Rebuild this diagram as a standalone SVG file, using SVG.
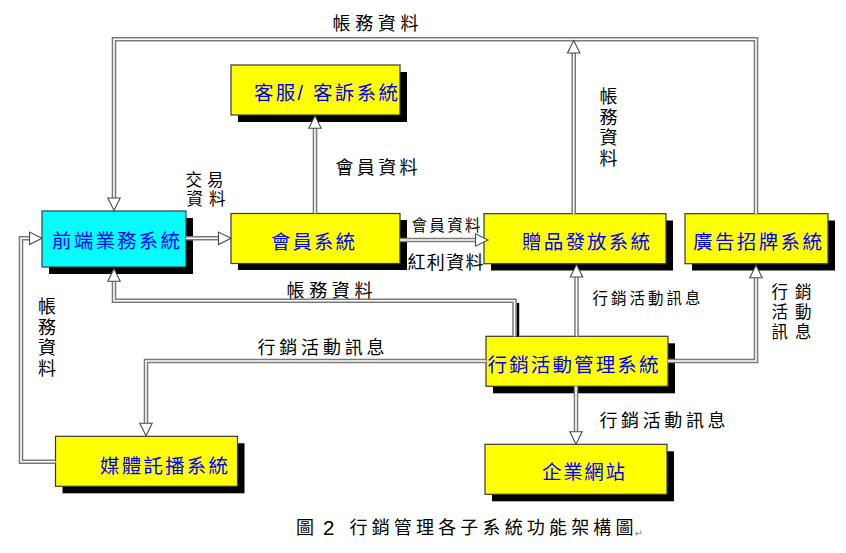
<svg xmlns="http://www.w3.org/2000/svg" xmlns:xlink="http://www.w3.org/1999/xlink" width="846" height="553" viewBox="0 0 846 553">
<style>
  .shadow { fill: #000; }
  .box { fill: #ffff00; stroke: #3a3a3a; stroke-width: 1.2; }
  .cyan { fill: #00ffff; }
  .lbl { font-family: "Liberation Sans", "Noto Sans CJK TC", "Noto Sans CJK SC", sans-serif; font-size: 19.5px; fill: #0000ff; dominant-baseline: central; }
  .t { font-family: "Liberation Sans", "Noto Sans CJK TC", "Noto Sans CJK SC", sans-serif; font-size: 18px; fill: #000; dominant-baseline: central; }
  .ts { font-size: 15.5px; }
  .st { font-size: 16.5px; }
  .vt { text-anchor: middle; }
  .wo { fill: none; stroke: #7a7a7a; stroke-width: 4.6; }
  .wi { fill: none; stroke: #ffffff; stroke-width: 1.6; }
  .arrow { fill: #ffffff; stroke: #4a4a4a; stroke-width: 1.1; stroke-linejoin: miter; }
</style>
<defs>
  <path id="ah" class="arrow" d="M0,0 L-12.5,-6.2 L-12.5,6.2 Z"/>
</defs>
<rect width="846" height="553" fill="#ffffff"/>

<!-- nodes -->
<g id="frontend">
  <rect class="shadow" x="49" y="218" width="144" height="56"/>
  <rect class="box cyan" x="42" y="211" width="144" height="56"/>
  <text class="lbl" x="52" y="241" textLength="128" lengthAdjust="spacing">前端業務系統</text>
</g>
<g id="member">
  <rect class="shadow" x="238" y="220" width="169" height="50"/>
  <rect class="box" x="231" y="213.5" width="169" height="50"/>
  <text class="lbl" x="271" y="241.5" textLength="84" lengthAdjust="spacing">會員系統</text>
</g>
<g id="service">
  <rect class="shadow" x="238" y="72" width="169" height="50"/>
  <rect class="box" x="231" y="65" width="169" height="50"/>
  <text class="lbl" x="254" y="93" textLength="144" lengthAdjust="spacing">客服/ 客訴系統</text>
</g>
<g id="gift">
  <rect class="shadow" x="491" y="220.5" width="182" height="50"/>
  <rect class="box" x="484" y="213.7" width="182" height="50"/>
  <text class="lbl" x="522" y="241.5" textLength="128" lengthAdjust="spacing">贈品發放系統</text>
</g>
<g id="billboard">
  <rect class="shadow" x="692" y="220.5" width="143" height="50"/>
  <rect class="box" x="685" y="213.7" width="143" height="50"/>
  <text class="lbl" x="693" y="241.5" textLength="129" lengthAdjust="spacing">廣告招牌系統</text>
</g>
<g id="marketing">
  <rect class="shadow" x="493" y="343.3" width="182" height="50"/>
  <rect class="box" x="486" y="336.3" width="182" height="50"/>
  <text class="lbl" x="487.5" y="364.5" textLength="171" lengthAdjust="spacing">行銷活動管理系統</text>
</g>
<g id="website">
  <rect class="shadow" x="492" y="451.3" width="182" height="50"/>
  <rect class="box" x="485" y="444.3" width="182" height="50"/>
  <text class="lbl" x="542" y="472" textLength="83" lengthAdjust="spacing">企業網站</text>
</g>
<g id="media">
  <rect class="shadow" x="62.5" y="443.3" width="182" height="50"/>
  <rect class="box" x="55.5" y="436.3" width="182" height="50"/>
  <text class="lbl" x="100" y="465.5" textLength="128" lengthAdjust="spacing">媒體託播系統</text>
</g>

<!-- connectors -->
<g id="connectors">
  <rect class="shadow" x="516.6" y="303" width="2.6" height="33.5"/>
  <g>
    <path class="wo" d="M756,213.7 V39.3 H114 V198"/>
    <path class="wo" d="M573.7,213.7 V52"/>
    <path class="wo" d="M315,213.3 V127"/>
    <path class="wo" d="M186,238.3 H219"/>
    <path class="wo" d="M400,240 H476"/>
    <path class="wo" d="M514.5,336.3 V300.7 H114 V281"/>
    <path class="wo" d="M576.5,336.3 V277"/>
    <path class="wo" d="M668,361 H756 V277.5"/>
    <path class="wo" d="M486,361 H146 V423"/>
    <path class="wo" d="M576,386.3 V432"/>
    <path class="wo" d="M55.5,461.7 H21 V238.3 H30"/>
  </g>
  <g>
    <path class="wi" d="M756,213.7 V39.3 H114 V198"/>
    <path class="wi" d="M573.7,213.7 V52"/>
    <path class="wi" d="M315,213.3 V127"/>
    <path class="wi" d="M186,238.3 H219"/>
    <path class="wi" d="M400,240 H476"/>
    <path class="wi" d="M514.5,336.3 V300.7 H114 V281"/>
    <path class="wi" d="M576.5,336.3 V277"/>
    <path class="wi" d="M668,361 H756 V277.5"/>
    <path class="wi" d="M486,361 H146 V423"/>
    <path class="wi" d="M576,386.3 V432"/>
    <path class="wi" d="M55.5,461.7 H21 V238.3 H30"/>
  </g>
  <use xlink:href="#ah" href="#ah" transform="translate(114,210.5) rotate(90)"/>
  <use xlink:href="#ah" href="#ah" transform="translate(573.7,40.5) rotate(-90)"/>
  <use xlink:href="#ah" href="#ah" transform="translate(315,115.8) rotate(-90)"/>
  <use xlink:href="#ah" href="#ah" transform="translate(231,238.3)"/>
  <use xlink:href="#ah" href="#ah" transform="translate(488,240)"/>
  <use xlink:href="#ah" href="#ah" transform="translate(114,268.8) rotate(-90)"/>
  <use xlink:href="#ah" href="#ah" transform="translate(576.5,264.5) rotate(-90)"/>
  <use xlink:href="#ah" href="#ah" transform="translate(756,265.3) rotate(-90)"/>
  <use xlink:href="#ah" href="#ah" transform="translate(146,435.7) rotate(90)"/>
  <use xlink:href="#ah" href="#ah" transform="translate(576,444.3) rotate(90)"/>
  <use xlink:href="#ah" href="#ah" transform="translate(42,238.3)"/>
</g>

<!-- connector labels -->
<g id="labels">
  <text class="t" x="332.5" y="24" textLength="86" lengthAdjust="spacing">帳務資料</text>
  <text class="t" x="335.5" y="168" textLength="82" lengthAdjust="spacing">會員資料</text>
  <text class="t st" x="185.5" y="179.5" textLength="38" lengthAdjust="spacing">交易</text>
  <text class="t st" x="186.5" y="198.5" textLength="39" lengthAdjust="spacing">資料</text>
  <text class="t ts" x="411.5" y="225.5" textLength="69" lengthAdjust="spacing">會員資料</text>
  <text class="t" x="407.5" y="262.5" textLength="76" lengthAdjust="spacing">紅利資料</text>
  <text class="t vt"><tspan x="608.5" y="97">帳</tspan><tspan x="608.5" y="117.5">務</tspan><tspan x="608.5" y="138">資</tspan><tspan x="608.5" y="158.5">料</tspan></text>
  <text class="t" x="286.5" y="290.5" textLength="86" lengthAdjust="spacing">帳務資料</text>
  <text class="t vt"><tspan x="47" y="307">帳</tspan><tspan x="47" y="327.5">務</tspan><tspan x="47" y="348">資</tspan><tspan x="47" y="368.5">料</tspan></text>
  <text class="t" x="257.5" y="347.5" textLength="127" lengthAdjust="spacing">行銷活動訊息</text>
  <text class="t ts" x="592.5" y="298.5" textLength="108" lengthAdjust="spacing">行銷活動訊息</text>
  <text class="t" x="599.5" y="420.5" textLength="126" lengthAdjust="spacing">行銷活動訊息</text>
  <text class="t st"><tspan x="771.5" y="291.5" textLength="40" lengthAdjust="spacing">行銷</tspan><tspan x="771.5" y="311.5" textLength="40" lengthAdjust="spacing">活動</tspan><tspan x="771.5" y="331.5" textLength="40" lengthAdjust="spacing">訊息</tspan></text>
</g>

<!-- caption -->
<g id="caption">
  <text class="t" x="296" y="528.3" style="font-size:18px">圖</text>
  <text x="323" y="535" style="font-family:'Liberation Sans',Arial,sans-serif;font-size:20.5px;fill:#000">2</text>
  <text class="t" x="349.5" y="528.3" style="font-size:18px" textLength="284" lengthAdjust="spacing">行銷管理各子系統功能架構圖</text>
  <text x="634.5" y="537" style="font-family:'DejaVu Sans',sans-serif;font-size:10px;fill:#888">↵</text>
</g>
</svg>
